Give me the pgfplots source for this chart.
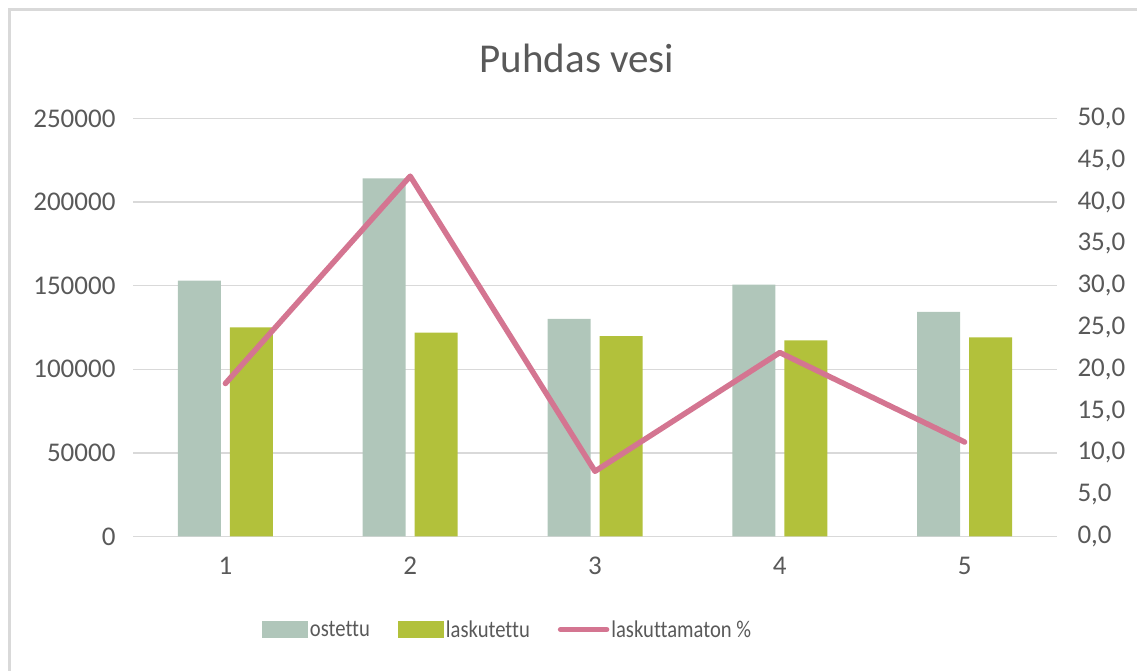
\documentclass[border=0pt]{standalone}
\usepackage{pgfplots}
\pgfplotsset{compat=1.18}
\usepackage{fontspec}
\setmainfont{Carlito}[Ligatures=NoCommon]
\newfontfamily\legfont{Carlito}[Ligatures=NoCommon, FakeStretch=0.86]
\definecolor{ostc}{RGB}{176,198,186}
\definecolor{lasc}{RGB}{178,193,59}
\definecolor{pinkc}{RGB}{212,117,145}
\definecolor{gridc}{RGB}{217,217,217}
\definecolor{labc}{RGB}{89,89,89}
\begin{document}
\begin{tikzpicture}[x=1pt,y=1pt]
\useasboundingbox (0,0) rectangle (1137,671);
\draw[gridc, line width=3pt] (9,-30) -- (9,661.5) -- (1180,661.5);
\node[anchor=base, text=labc, font=\fontsize{41}{49}\selectfont] at (577,598) {Puhdas vesi};
\begin{axis}[
  at={(133pt,134.5pt)}, anchor=south west,
  scale only axis, width=924pt, height=418pt,
  xmin=0.5, xmax=5.5, ymin=0, ymax=250000,
  xtick={1,2,3,4,5},
  ytick={0,50000,100000,150000,200000,250000},
  axis line style={draw=none},
  major tick length=0pt,
  ymajorgrids, grid style={gridc, line width=1.5pt},
  scaled y ticks=false,
  /pgf/number format/.cd, fixed, precision=0, 1000 sep={}, assume math mode=true,
  /pgfplots/.cd,
  tick label style={text=labc, font=\fontsize{27}{32}\selectfont},
  xticklabel style={yshift=-17pt},
  yticklabel style={xshift=-14pt},
  legend style={at={(0.1396,-0.2225)}, anchor=west, draw=none, fill=none,
    legend columns=-1, inner sep=0pt, outer sep=0pt,
    font=\legfont\fontsize{24}{28}\selectfont, text=labc,
    nodes={inner sep=2pt},
    /tikz/every even column/.append style={column sep=26pt}},
  legend cell align=left,
]
\addplot[ybar, bar width=43pt, bar shift=-26pt, fill=ostc, draw=none,
  legend image code/.code={\fill[ostc] (0pt,-8.5pt) rectangle (46pt,8.5pt);}]
  coordinates {(1,153000) (2,214200) (3,130100) (4,150600) (5,134300)};
\addlegendentry{ostettu}
\addplot[ybar, bar width=43pt, bar shift=26pt, fill=lasc, draw=none,
  legend image code/.code={\fill[lasc] (0pt,-8.5pt) rectangle (46pt,8.5pt);}]
  coordinates {(1,125100) (2,121900) (3,119900) (4,117300) (5,119100)};
\addlegendentry{laskutettu}
\addlegendimage{legend image code/.code={\draw[pinkc, line width=5.5pt, line cap=round] (1pt,0pt) -- (47pt,0pt);}}
\addlegendentry{laskuttamaton \%}
\end{axis}
\begin{axis}[
  at={(133pt,134.5pt)}, anchor=south west,
  scale only axis, width=924pt, height=418pt,
  xmin=0.5, xmax=5.5, ymin=0, ymax=50,
  axis y line*=right, axis x line=none,
  axis line style={draw=none},
  major tick length=0pt,
  ytick={0,5,...,50},
  /pgf/number format/.cd, fixed, fixed zerofill, precision=1, use comma, assume math mode=true,
  /pgfplots/.cd,
  tick label style={text=labc, font=\fontsize{27}{32}\selectfont},
  yticklabel style={xshift=17pt},
]
\addplot[pinkc, line width=5.5pt, line join=round, line cap=round, mark=none]
  coordinates {(1,18.3) (2,43.1) (3,7.8) (4,22.0) (5,11.3)};
\end{axis}
\end{tikzpicture}
\end{document}
